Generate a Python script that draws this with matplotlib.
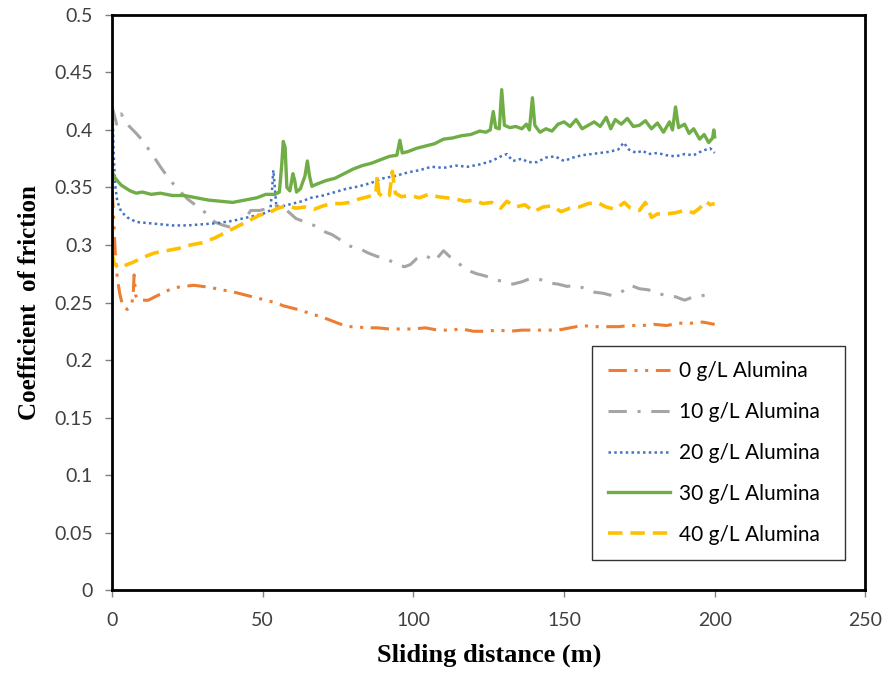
import numpy as np
import matplotlib
matplotlib.use('agg')
import matplotlib.pyplot as plt

# sliding distance (m) / coefficient of friction
x0 = [0, 0.4, 0.8, 1.2, 1.8, 2.5, 3.5, 5, 6.5, 7, 7.3, 7.8, 9, 12, 15, 18, 21, 24, 27, 30, 33, 36, 39, 42, 45,
      48, 51, 54, 57, 60, 63, 66, 69, 72, 75, 78, 81, 84, 88, 92, 96, 100, 104, 108, 112, 116, 120, 124, 128,
      132, 136, 140, 144, 148, 152, 156, 160, 164, 168, 172, 176, 180, 184, 188, 192, 196, 200]
y0 = [0.348, 0.33, 0.305, 0.285, 0.27, 0.258, 0.247, 0.244, 0.248, 0.258, 0.274, 0.256, 0.252, 0.252, 0.256,
      0.26, 0.263, 0.264, 0.265, 0.264, 0.263, 0.261, 0.26, 0.258, 0.256, 0.254, 0.252, 0.25, 0.247, 0.245,
      0.243, 0.24, 0.238, 0.235, 0.232, 0.229, 0.229, 0.228, 0.228, 0.227, 0.227, 0.227, 0.228, 0.226, 0.226,
      0.227, 0.225, 0.225, 0.226, 0.225, 0.226, 0.226, 0.226, 0.226, 0.228, 0.23, 0.229, 0.229, 0.229, 0.23,
      0.23, 0.231, 0.23, 0.232, 0.232, 0.233, 0.231]

x10 = [0, 0.5, 1.5, 3, 5, 8, 10, 13, 16, 19, 22, 25, 28, 31, 34, 37, 40, 43, 46, 49, 52, 55, 58, 61, 64, 67,
       70, 73, 76, 79, 82, 85, 88, 91, 94, 97, 99, 101, 104, 107, 110, 112, 115, 118, 121, 124, 127, 130, 133,
       136, 139, 142, 145, 148, 151, 154, 157, 160, 163, 166, 169, 172, 175, 178, 181, 184, 187, 190, 193,
       196, 198.5, 200]
y10 = [0.42, 0.415, 0.405, 0.414, 0.405, 0.397, 0.391, 0.38, 0.368, 0.357, 0.348, 0.34, 0.334, 0.328, 0.32,
       0.317, 0.315, 0.318, 0.33, 0.33, 0.332, 0.334, 0.33, 0.323, 0.32, 0.317, 0.312, 0.309, 0.304, 0.299,
       0.297, 0.293, 0.29, 0.288, 0.284, 0.281, 0.283, 0.288, 0.291, 0.286, 0.295, 0.29, 0.284, 0.278, 0.275,
       0.273, 0.27, 0.268, 0.266, 0.268, 0.271, 0.27, 0.267, 0.266, 0.264, 0.265, 0.262, 0.259, 0.258, 0.256,
       0.259, 0.265, 0.262, 0.261, 0.258, 0.256, 0.255, 0.252, 0.255, 0.256, 0.258, 0.257]

x20 = [0, 0.2, 0.5, 1, 1.7, 3, 5, 8, 12, 16, 20, 25, 30, 35, 40, 45, 50, 52.5, 53, 53.5, 54, 54.5, 57, 60, 63,
       66, 70, 74, 78, 82, 86, 90, 94, 98, 102, 106, 110, 114, 118, 122, 126, 129, 131, 133, 136, 138, 141,
       144, 147, 150, 153, 156, 159, 162, 165, 168, 169.8, 171.5, 174, 176, 178, 181, 184, 187, 190, 193, 196,
       198.5, 200]
y20 = [0.426, 0.41, 0.38, 0.352, 0.338, 0.329, 0.324, 0.32, 0.319, 0.318, 0.317, 0.317, 0.318, 0.319, 0.321,
       0.324, 0.327, 0.33, 0.345, 0.365, 0.35, 0.333, 0.334, 0.336, 0.338, 0.341, 0.343, 0.346, 0.349, 0.351,
       0.354, 0.358, 0.36, 0.363, 0.365, 0.368, 0.367, 0.369, 0.368, 0.37, 0.373, 0.377, 0.379, 0.373, 0.375,
       0.372, 0.372, 0.376, 0.377, 0.373, 0.376, 0.378, 0.379, 0.38, 0.381, 0.383, 0.389, 0.383, 0.38, 0.382,
       0.379, 0.38, 0.378, 0.377, 0.379, 0.378, 0.382, 0.384, 0.38]

x30 = [0, 0.3, 1, 3, 6, 8, 10, 13, 16, 20, 24, 28, 32, 36, 40, 44, 48, 51, 54, 55.5, 56.3, 56.8, 57.4, 58, 59,
       60, 60.6, 61.2, 62.5, 64, 64.8, 65.5, 66.3, 68, 71, 74, 77, 80, 83, 86, 89, 92, 94.5, 95.5, 96.3, 98,
       101, 104, 107, 110, 113, 116, 119, 122, 124, 125.5, 126.5, 127.3, 128.5, 129.3, 130.2, 132, 134, 136,
       137.5, 138.5, 139.5, 140.3, 142, 144, 146, 148, 150, 152, 154, 156, 158, 160, 162, 164, 165.5, 167,
       169, 171, 173, 175, 177, 179, 181, 183, 185, 186, 187, 188, 190, 191.5, 193, 195, 196.5, 198, 199.3,
       199.7, 200]
y30 = [0.356, 0.362, 0.358, 0.352, 0.347, 0.345, 0.346, 0.344, 0.345, 0.343, 0.343, 0.341, 0.339, 0.338,
       0.337, 0.339, 0.341, 0.344, 0.344, 0.346, 0.37, 0.39, 0.385, 0.35, 0.347, 0.362, 0.356, 0.346, 0.349,
       0.36, 0.373, 0.36, 0.351, 0.353, 0.356, 0.358, 0.362, 0.366, 0.369, 0.371, 0.374, 0.377, 0.378, 0.391,
       0.38, 0.381, 0.384, 0.386, 0.388, 0.392, 0.393, 0.395, 0.396, 0.399, 0.398, 0.4, 0.416, 0.402, 0.401,
       0.435, 0.404, 0.402, 0.403, 0.401, 0.405, 0.4, 0.428, 0.404, 0.398, 0.401, 0.399, 0.405, 0.407, 0.403,
       0.409, 0.401, 0.404, 0.407, 0.403, 0.411, 0.401, 0.409, 0.405, 0.41, 0.403, 0.404, 0.408, 0.401, 0.406,
       0.398, 0.407, 0.4, 0.42, 0.402, 0.405, 0.397, 0.401, 0.392, 0.396, 0.389, 0.393, 0.4, 0.394]

x40 = [0, 0.7, 2, 4, 7, 10, 14, 18, 22, 26, 30, 34, 37, 40, 43, 46, 49, 52, 55, 58, 61, 64, 67, 70, 73, 76,
       79, 82, 85, 87.5, 88, 88.5, 90, 92, 93, 94, 96, 99, 102, 105, 108, 111, 114, 117, 120, 123, 126, 129,
       131, 134, 137, 140, 143, 146, 149, 152, 155, 158, 161, 164, 167, 170, 172, 175, 177, 179, 181, 184,
       187, 190, 193, 195, 197, 198.5, 200]
y40 = [0.292, 0.284, 0.28, 0.282, 0.285, 0.289, 0.293, 0.295, 0.297, 0.3, 0.302, 0.306, 0.31, 0.314, 0.318,
       0.322, 0.326, 0.328, 0.332, 0.334, 0.332, 0.333, 0.331, 0.334, 0.336, 0.336, 0.337, 0.34, 0.342, 0.344,
       0.36, 0.345, 0.341, 0.343, 0.364, 0.345, 0.342, 0.343, 0.341, 0.344, 0.342, 0.341, 0.34, 0.338, 0.339,
       0.336, 0.337, 0.332, 0.338, 0.333, 0.335, 0.329, 0.333, 0.334, 0.329, 0.332, 0.333, 0.336, 0.337, 0.333,
       0.331, 0.337, 0.332, 0.33, 0.337, 0.324, 0.327, 0.327, 0.328, 0.33, 0.328, 0.332, 0.338, 0.335, 0.336]

labels = ['0 g/L Alumina', '10 g/L Alumina', '20 g/L Alumina', '30 g/L Alumina', '40 g/L Alumina']

fig = plt.figure(figsize=(8.83, 6.76), dpi=100, facecolor='w')
ax = fig.add_axes([0.127, 0.127, 0.853, 0.851])

ax.plot(x0, y0, color='#ED7D31', lw=2.2, ls=(0, (6, 2.5, 1, 2.5, 1, 2.5)), label=labels[0])
ax.plot(x10, y10, color='#A5A5A5', lw=2.2, ls=(0, (6, 3.5, 1, 3.5)), label=labels[1])
ax.plot(x20, y20, color='#4472C4', lw=1.8, ls=(0, (1, 1.3)), label=labels[2])
ax.plot(x30, y30, color='#70AD47', lw=2.4, ls='-', label=labels[3])
ax.plot(x40, y40, color='#FFC000', lw=2.6, ls=(0, (4, 2.2)), label=labels[4])

ax.set_xlim(0, 250)
ax.set_ylim(0, 0.5)
ax.set_xticks(np.arange(0, 251, 50))
ax.set_yticks(np.arange(0, 0.51, 0.05))
ax.set_yticklabels(['0', '0.05', '0.1', '0.15', '0.2', '0.25', '0.3', '0.35', '0.4', '0.45', '0.5'])

for lab in ax.get_xticklabels() + ax.get_yticklabels():
    lab.set_family('Lato')
    lab.set_fontsize(14)
    lab.set_color('#404040')
ax.tick_params(axis='both', direction='out', length=5, width=1, color='#808080')
ax.tick_params(axis='y', pad=9)
ax.tick_params(axis='x', pad=11)

for s in ax.spines.values():
    s.set_linewidth(2)
    s.set_color('black')

ax.set_xlabel('Sliding distance (m)', fontsize=19, fontweight='bold', family='Liberation Serif', labelpad=10)
ax.set_ylabel('Coefficient  of friction', fontsize=18, fontweight='bold', family='Liberation Serif', labelpad=9)

leg = ax.legend(loc='lower left', bbox_to_anchor=(0.637, 0.052, 0.336, 0.362), mode='expand',
                borderaxespad=0, prop={'family': 'Lato', 'size': 15}, frameon=True, fancybox=False,
                handlelength=3.0, labelspacing=1.0, borderpad=0.75, handletextpad=0.45)
leg.get_frame().set_edgecolor('black')
leg.get_frame().set_linewidth(1)

plt.savefig('out.png', dpi=100)
